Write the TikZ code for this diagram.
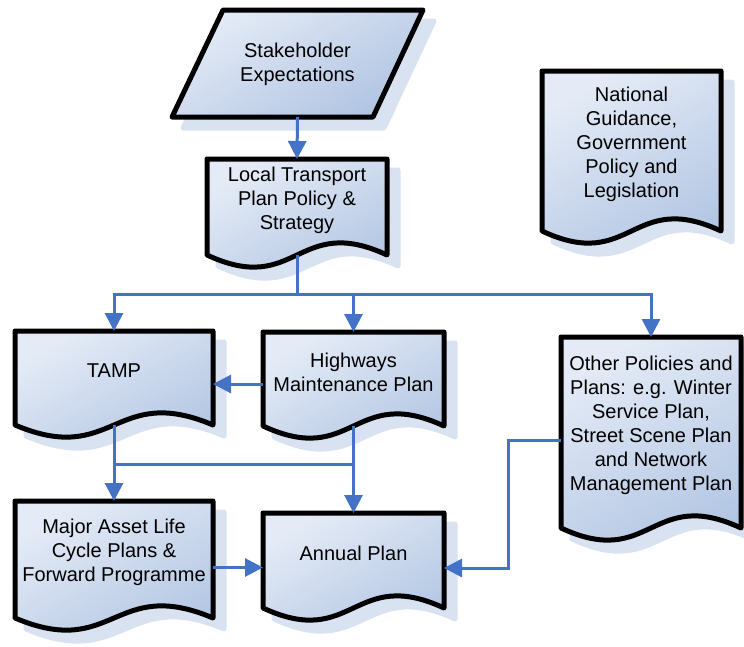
\documentclass[tikz,border=0pt]{standalone}
\usepackage{fontspec}
\setmainfont{Liberation Sans}
\usetikzlibrary{arrows.meta,calc}
\definecolor{boxlight}{RGB}{228,235,246}
\definecolor{boxdark}{RGB}{176,196,226}
\definecolor{shadowc}{RGB}{217,226,241}
\definecolor{connc}{RGB}{68,114,196}
\tikzset{
  frame/.style={draw=none, inner sep=0pt, outer sep=0pt, rectangle},
  labeltext/.style={font=\fontsize{20}{24}\selectfont, align=center, inner sep=0pt},
  boxshadow/.style={fill=shadowc, draw=shadowc, line width=5pt, line join=round, shift={(11,11)}},
  boxfill/.style={top color=boxlight, bottom color=boxdark, shading angle=30},
  boxline/.style={draw=black, line width=5pt, line join=round},
  conn/.style={draw=connc, line width=3pt},
  arr/.style={conn, -{Triangle[length=18pt,width=18pt]}},
}
% #1 name, #2 left, #3 top, #4 right, #5 bottom (wave mid), #6 text
\newcommand\docbox[6]{%
  \path[boxshadow] (#2,#3) -- (#4,#3) -- (#4,#5) .. controls ({(#2+#4)/2},{#5-42}) and ({(#2+#4)/2},{#5+42}) .. (#2,#5) -- cycle;
  \path[boxfill] (#2,#3) -- (#4,#3) -- (#4,#5) .. controls ({(#2+#4)/2},{#5-42}) and ({(#2+#4)/2},{#5+42}) .. (#2,#5) -- cycle;
  \path[boxline] (#2,#3) -- (#4,#3) -- (#4,#5) .. controls ({(#2+#4)/2},{#5-42}) and ({(#2+#4)/2},{#5+42}) .. (#2,#5) -- cycle;
  \node[frame, minimum width={#4-#2}, minimum height={#5-#3}] (#1) at ({(#2+#4)/2},{(#3+#5)/2}) {};
  \node[labeltext] (#1-text) at ({(#2+#4)/2},{(#3+#5-14)/2}) {#6};
}
\begin{document}
\begin{tikzpicture}[x=1pt,y=-1pt]
\useasboundingbox (0,0) rectangle (744,646);
% Stakeholder parallelogram
\path[boxshadow] (223,10) -- (423,10) -- (373,117) -- (172,117) -- cycle;
\path[boxfill] (223,10) -- (423,10) -- (373,117) -- (172,117) -- cycle;
\path[boxline] (223,10) -- (423,10) -- (373,117) -- (172,117) -- cycle;
\node[frame, minimum width=200, minimum height=107] (stake) at (297.5,63.5) {};
\node[labeltext] (stake-text) at (297.5,64) {Stakeholder\\Expectations};

\docbox{ltp}{207}{159}{387}{255}{Local Transport\\Plan Policy \&\\Strategy}
\docbox{national}{542}{71}{721}{231}{National\\Guidance,\\Government\\Policy and\\Legislation}
\docbox{tamp}{15}{331}{213}{425}{TAMP}
\docbox{hmp}{263}{332}{444}{426}{Highways\\Maintenance Plan}
\docbox{other}{561}{337}{741}{528}{Other Policies and\\Plans: e.g. Winter\\Service Plan,\\Street Scene Plan\\and Network\\Management Plan}
\docbox{major}{15}{501}{213}{618}{Major Asset Life\\Cycle Plans \&\\Forward Programme}
\docbox{annual}{263}{513}{444}{608}{Annual Plan}

% connectors
\draw[arr] (stake.south) -- (ltp.north);
\coordinate (bus) at (297,294);
\draw[conn] (ltp.south) -- (bus);
\draw[arr] (bus) -| (tamp.north);
\draw[arr] (bus) -| (hmp.north);
\draw[arr] (bus) -| (other.north);
\draw[arr] ([yshift=-5pt]hmp.west) -- ([yshift=-5pt]hmp.west -| tamp.east);
\coordinate (join) at (114,464);
\draw[conn] (join) -- (join -| hmp.south);
\draw[arr] (tamp.south) -- (major.north);
\draw[arr] (hmp.south) -- (annual.north);
\draw[arr] ([yshift=-8pt]major.east) -- ([yshift=-8pt]major.east -| annual.west);
\coordinate (bend) at (508,440);
\draw[arr] (bend -| other.west) -- (bend) |- ([yshift=-7.5pt]annual.east);
\end{tikzpicture}
\end{document}
